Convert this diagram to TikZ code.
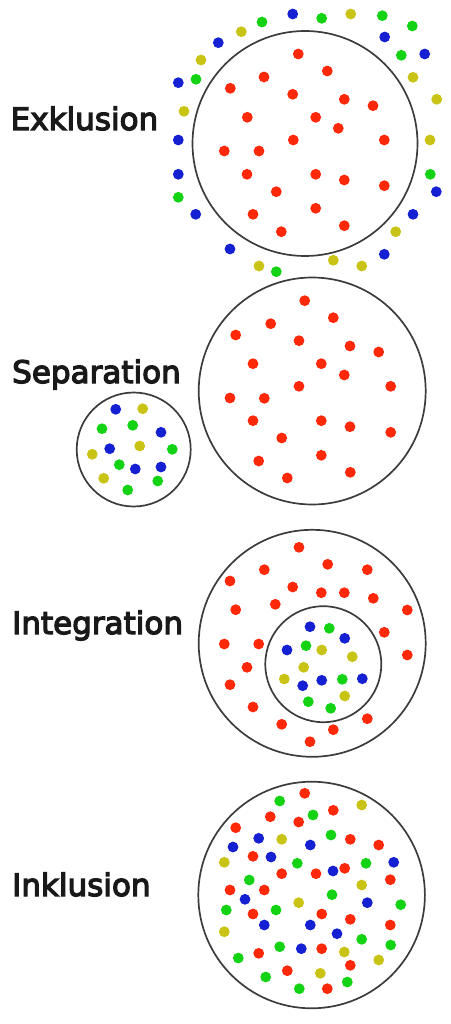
\documentclass[tikz,border=0pt]{standalone}
\usepackage{fontspec}
\newfontfamily\lblfont{DejaVu Sans}[FakeBold=4]
\definecolor{dred}{RGB}{255,40,8}
\definecolor{dblue}{RGB}{20,32,210}
\definecolor{dgreen}{RGB}{20,210,20}
\definecolor{dyel}{RGB}{200,195,20}
\definecolor{ring}{RGB}{60,60,60}
\tikzset{
  ringline/.style={draw=ring,line width=1.7pt},
  lbl/.style={anchor=base west,inner sep=0pt,text=black!90,font=\lblfont\fontsize{31}{36}\selectfont},
}
\newcommand{\putdots}[2]{\foreach \px/\py in {#2} {\fill[#1] (\px,\py) circle (5.4);}}
\begin{document}
\begin{tikzpicture}[x=1pt,y=-1pt]
\useasboundingbox (0,0) rectangle (450,1024);
% labels
\node[lbl] (lexk) at (10.5,130) {Exklusion};
\node[lbl] (lsep) at (12,383) {Separation};
\node[lbl] (lint) at (12,634) {Integration};
\node[lbl] (link) at (12,896) {Inklusion};
% ---------- Exklusion
\draw[ringline] (305,143.5) circle (112.5);
\putdots{dred}{298.3/54,327.3/71,264/77,230.3/88.3,292.7/94.3,344.3/99.3,373/105.7,247.3/117.3,315.7/117.3,338.3/128.3,293.3/140,384.3/140,224.3/151,259/151,247/174.3,315.7/174.3,344.3/180,384.3/185.7,276.3/191.7,315.7/208.3,253/214.3,344.3/225.7,281.3/231.7}
\putdots{dblue}{292.7/14,384.7/37,424.7/54,218.3/42.7,178.3/82.7,178.3/140,178.3/174.3,195.7/214.3,230/249,384.3/254.3,413/214.3,436.3/191.7}
\putdots{dgreen}{321.7/18.3,382.3/15.7,412.3/26,401.3/55.3,262/22,196/79.3,178.3/197.3,276.3/271.7,430.3/174.3}
\putdots{dyel}{350.7/14,413/77.3,436.7/99.3,430/140,241.3/31.7,201/60,184/111.3,259/266,333.3/260.3,361.7/266,395.7/231.7}
% ---------- Separation
\draw[ringline] (312.2,391) circle (113.5);
\putdots{dred}{304.7/300.7,333.3/317.7,270.7/323.7,235.7/335,299/340.7,350/346,378.7/352,253/363.7,321.3/363.7,344.3/375,299/386.3,390.7/386.3,230/398,264.3/398.3,253/420.7,321.3/420.7,350/426.7,390.7/432.3,281.7/438,321.3/455.3,258.7/461,350.3/472.3,287.3/478}
\draw[ringline] (133.7,449.5) circle (57);
\putdots{dblue}{115.7/409.3,161/432.3,109.7/448.7,135.3/469,161/467}
\putdots{dgreen}{102/428.7,132.7/425.3,172.3/449.3,119.3/464.7,157.7/481,127.7/490}
\putdots{dyel}{142.7/408.7,139.7/446,92.3/454.3,103.7/478.3}
% ---------- Integration
\draw[ringline] (312.2,643.3) circle (113.5);
\draw[ringline] (323.3,664.2) circle (58);
\putdots{dred}{299/547.3,327.7/564.3,264.3/569.7,367.3/569.7,230/581,292.7/587,321.3/592.7,344.3/592.7,373.3/598.3,275.3/604.3,235.7/609.7,407.3/610,384.3/632.3,224.3/644,258.7/644,407.3/655,247/667.3,230/684.7,253/707,367.3/718.7,281.7/724.3,333.3/729.7,310/741.7}
\putdots{dblue}{310/626.7,344.7/638.3,287/650,302.7/685.7,321.7/680.3,362.3/678.7}
\putdots{dgreen}{329.3/628.3,306/645.7,342.3/679.3,308.3/701.7,330.7/708.3}
\putdots{dyel}{321.7/650,352.3/656.7,303.7/667.3,284.3/679,344.7/696}
% ---------- Inklusion
\draw[ringline] (311.6,895) circle (113.3);
\putdots{dred}{304.7/793.3,333.3/810.3,270.3/816.7,298.7/822,235.7/827.7,350.3/839.3,378.7/845,253/856.3,344.7/868.3,281.7/873.7,316/873.7,390.3/879.7,230/890,264.3/890,253/914,321.7/914,350.3/919.3,390.3/925,321.7/948.7,258.7/953.3,350.3/965.3,287.3/970.7,327.3/988.7}
\putdots{dblue}{258.7/838.3,233/847,310.3/845,271/857,393.7/862.3,333/871,245/899.3,367.3/902.7,264.3/925,310.3/925,337/933.7,301.3/948.7}
\putdots{dgreen}{279.7/801,313/815,331/835,297.3/863.3,366/863.3,249.3/880,332/894.7,400.7/904.7,226.3/910,276/910,361.7/939.3,390.7/945,279.7/946.7,238.3/958,265.7/977,347.3/982,299.3/988.7}
\putdots{dyel}{361.7/805,281.7/839.3,224.3/862.3,361.7/885,298.7/902.7,224.3/931.7,344.3/952,378.7/960,320.3/973.3}
\end{tikzpicture}
\end{document}
